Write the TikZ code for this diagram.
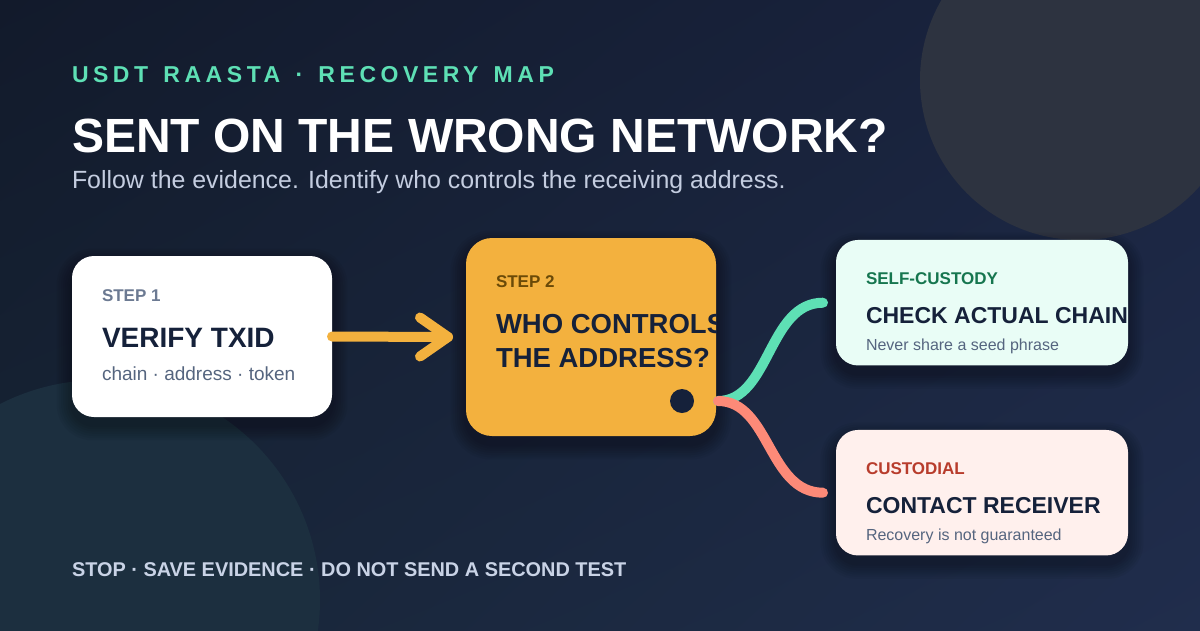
\documentclass[tikz,border=0pt]{standalone}
\usepackage{fontspec}
\setmainfont{Liberation Sans}
\newfontfamily\spacedfont[LetterSpace=19.7,WordSpace=1.4]{Liberation Sans}
\usetikzlibrary{calc,shadings}
\definecolor{bgA}{HTML}{121A2B}
\definecolor{bgB}{HTML}{1A2440}
\definecolor{bgC}{HTML}{172536}
\definecolor{bgD}{HTML}{202D4C}
\definecolor{circA}{HTML}{2D3340}
\definecolor{circB}{HTML}{1C2F3F}
\definecolor{mint}{HTML}{5EE0B5}
\definecolor{salmon}{HTML}{FD8A78}
\definecolor{amber}{HTML}{F3B13E}
\definecolor{ink}{HTML}{15213A}
\definecolor{subtle}{HTML}{C4CDE0}
\definecolor{footc}{HTML}{C9D3E6}
\definecolor{stepgray}{HTML}{6C7A92}
\definecolor{bodygray}{HTML}{55657F}
\definecolor{stepbrown}{HTML}{6A4A08}
\definecolor{mintbg}{HTML}{E9FDF6}
\definecolor{rosebg}{HTML}{FFF0ED}
\definecolor{greenlab}{HTML}{16764F}
\definecolor{redlab}{HTML}{B83C2C}
\pgfdeclarelayer{bglayer}
\pgfdeclarelayer{shadowlayer}
\pgfsetlayers{bglayer,shadowlayer,main}
\begin{document}
\begin{tikzpicture}[x=1pt,y=-1pt,
  card/.style={rectangle, draw=none, inner sep=0pt, outer sep=0pt},
  txt/.style={inner sep=0pt, outer sep=0pt, anchor=base west},
  flow/.style={line width=10pt, line cap=round, line join=round},
  lab/.style={txt, font=\bfseries\fontsize{17}{20}\selectfont},
  big/.style={txt, font=\bfseries\fontsize{28}{34}\selectfont, text=ink},
  mid/.style={txt, font=\bfseries\fontsize{23}{28}\selectfont, text=ink},
  small/.style={txt, font=\fontsize{16}{19}\selectfont, text=bodygray}]
\useasboundingbox (0,0) rectangle (1200,630);
\begin{pgfonlayer}{bglayer}
  \shade[upper left=bgA, upper right=bgB, lower left=bgC, lower right=bgD] (0,0) rectangle (1200,630);
  \fill[circA] (1080,80) circle[radius=160];
  \fill[circB] (100,600) circle[radius=220];
\end{pgfonlayer}

% cards
\node[card, fill=white, minimum width=260, minimum height=161, rounded corners=22pt] (b1) at (202,336.5) {};
\node[card, fill=amber, minimum width=250, minimum height=198, rounded corners=26pt] (b2) at (591,337) {};
\node[card, fill=mintbg, minimum width=292, minimum height=125.5, rounded corners=22pt] (b3) at (982,302.7) {};
\node[card, fill=rosebg, minimum width=292, minimum height=125.5, rounded corners=22pt] (b4) at (982,492.7) {};

% soft shadows
\begin{pgfonlayer}{shadowlayer}
  \foreach \n/\r in {b1/22,b2/26,b3/22,b4/22}{
    \foreach \k in {1,...,7}{
      \fill[black, opacity=0.045, rounded corners=\r pt+\k*2pt]
        ([shift={(-\k*2.2,-\k*2.2+8)}]\n.north west) rectangle ([shift={(\k*2.2,\k*2.2+8)}]\n.south east);
    }
  }
\end{pgfonlayer}

% header
\node[txt, text=mint, font=\spacedfont\bfseries\fontsize{23}{28}\selectfont] (kicker) at (72,82) {USDT RAASTA · RECOVERY MAP};
\node[txt, text=white, font=\bfseries\fontsize{48}{56}\selectfont] (title) at (72,152) {SENT ON THE WRONG NETWORK?};
\node[txt, text=subtle, font=\fontsize{24.9}{30}\selectfont] (sub) at (72,188) {Follow the evidence. Identify who controls the receiving address.};

% card 1
\node[lab, text=stepgray] (s1) at (102,301) {STEP 1};
\node[big] (t1) at (102,347) {VERIFY TXID};
\node[txt, text=bodygray, font=\fontsize{19}{23}\selectfont] (d1) at (102,380) {chain · address · token};

% card 2
\begin{scope}
  \clip[rounded corners=26pt] (b2.north west) rectangle (b2.south east);
  \node[lab, text=stepbrown] (s2) at (496,287) {STEP 2};
  \node[txt, font=\bfseries\fontsize{27.5}{34}\selectfont, text=ink] (t2a) at (496,333) {WHO CONTROLS};
  \node[txt, font=\bfseries\fontsize{27.5}{34}\selectfont, text=ink] (t2b) at (496,367) {THE ADDRESS?};
\end{scope}
\node[circle, fill=ink, minimum size=24pt, inner sep=0pt] (dot) at (682,401) {};

% card 3
\begin{scope}
  \clip[rounded corners=22pt] (b3.north west) rectangle (b3.south east);
  \node[lab, text=greenlab] (s3) at (866,284) {SELF-CUSTODY};
  \node[mid] (t3) at (866,323) {CHECK ACTUAL CHAIN};
  \node[small] (d3) at (866,350) {Never share a seed phrase};
\end{scope}

% card 4
\node[lab, text=redlab] (s4) at (866,474) {CUSTODIAL};
\node[mid] (t4) at (866,513) {CONTACT RECEIVER};
\node[small] (d4) at (866,540) {Recovery is not guaranteed};

% footer
\node[txt, text=footc, font=\bfseries\fontsize{19.9}{24}\selectfont] (foot) at (72,576.5) {STOP · SAVE EVIDENCE · DO NOT SEND A SECOND TEST};

% arrow step 1 -> step 2
\coordinate (apex) at ([xshift=-18pt]b2.west);
\draw[flow, amber] (b1.east) -- (apex);
\draw[flow, amber] ($(apex)+(-28,-19.5)$) -- (apex) -- ($(apex)+(-28,19.5)$);

% branches
\coordinate (fork) at ([xshift=2pt]b2.east |- dot);
\coordinate (e3) at ([xshift=-13pt]b3.west);
\coordinate (e4) at ([xshift=-13pt]b4.west);
\draw[flow, mint] (fork) .. controls +(52,0) and +(-55,0) .. (e3);
\draw[flow, salmon] (fork) .. controls +(52,0) and +(-55,0) .. (e4);
\end{tikzpicture}
\end{document}
